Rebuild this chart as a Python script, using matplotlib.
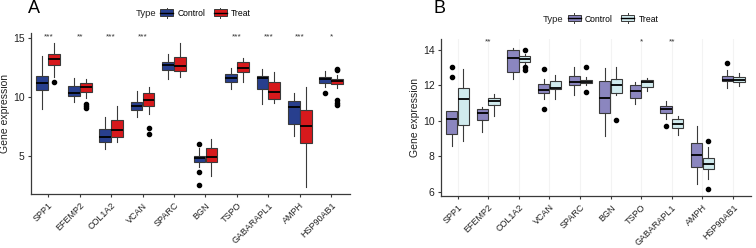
import numpy as np
import matplotlib
matplotlib.use("Agg")
import matplotlib.pyplot as plt
from matplotlib.legend_handler import HandlerBase
from matplotlib.patches import Rectangle
from matplotlib.lines import Line2D

plt.rcParams.update({
    "font.family": ["Liberation Sans", "DejaVu Sans"],
    "axes.spines.top": False,
    "axes.spines.right": False,
})

genes = ["SPP1", "EFEMP2", "COL1A2", "VCAN", "SPARC", "BGN", "TSPO",
         "GABARAPL1", "AMPH", "HSP90AB1"]

# ---- panel A: (whislo, q1, med, q3, whishi) per gene ----
a_ctrl = [(8.98, 10.57, 11.16, 11.78, 13.5), (9.6, 10.11, 10.37, 10.93, 11.58),
          (5.59, 6.16, 6.64, 7.31, 8.28), (8.28, 8.9, 9.24, 9.6, 10.5),
          (11.53, 12.26, 12.69, 12.97, 13.64), (4.1, 4.52, 4.8, 5.03, 5.65),
          (10.68, 11.3, 11.64, 11.97, 12.43), (9.41, 10.65, 11.58, 11.78, 12.37),
          (6.72, 7.74, 9.18, 9.66, 10.31), (10.85, 11.21, 11.53, 11.72, 12.18)]
a_ctrl_out = [[], [], [], [], [], [5.99, 3.67, 2.54], [], [], [], [10.31]]
a_treat = [(11.65, 12.74, 13.2, 13.64, 14.6), (9.89, 10.45, 10.88, 11.16, 11.5),
           (6.21, 6.64, 7.2, 8.05, 9.24), (8.53, 9.24, 9.75, 10.31, 10.82),
           (11.67, 12.2, 12.62, 13.36, 14.55), (3.3, 4.47, 4.89, 5.65, 6.44),
           (11.3, 12.12, 12.49, 12.97, 13.28), (9.47, 9.83, 10.42, 11.24, 12.09),
           (2.35, 6.07, 7.57, 8.87, 10.82), (10.74, 11.1, 11.36, 11.53, 11.85)]
a_treat_out = [[11.3], [9.4, 9.24, 9.04], [], [7.34, 6.84], [], [], [], [], [],
               [12.37, 12.25, 9.75, 9.52, 9.3]]
a_sig = ["***", "**", "***", "***", "", "", "***", "***", "***", "*"]

# ---- panel B ----
b_ctrl = [(8.59, 9.27, 10.13, 10.56, 10.56), (9.36, 10.06, 10.43, 10.66, 10.8),
          (12.35, 12.76, 13.55, 14.0, 14.1), (11.22, 11.56, 11.75, 12.07, 12.35),
          (11.46, 12.03, 12.21, 12.55, 13.06), (9.12, 10.47, 11.3, 12.25, 12.97),
          (10.96, 11.28, 11.71, 12.03, 12.21), (10.11, 10.43, 10.68, 10.85, 11.13),
          (6.45, 7.41, 8.08, 8.74, 9.73), (11.84, 12.25, 12.31, 12.55, 12.87)]
b_ctrl_out = [[13.04, 12.5], [], [], [12.93, 10.66], [], [], [], [9.72], [], [13.25]]
b_treat = [(8.87, 9.79, 11.22, 11.84, 12.95), (10.3, 10.88, 11.14, 11.28, 11.5),
           (13.2, 13.32, 13.51, 13.66, 13.75), (11.22, 11.79, 11.88, 12.25, 12.57),
           (12.0, 12.12, 12.21, 12.31, 12.45), (11.46, 11.56, 12.03, 12.35, 13.06),
           (11.71, 11.9, 12.18, 12.31, 12.44), (9.19, 9.59, 9.83, 10.13, 10.25),
           (6.73, 7.28, 7.58, 7.9, 8.55), (11.99, 12.18, 12.31, 12.46, 12.69)]
b_treat_out = [[], [], [14.0, 13.02, 12.87], [], [13.06, 11.65], [10.06], [], [],
               [8.87, 6.17], []]
b_sig = ["", "**", "", "", "", "", "*", "**", "", ""]

EDGE = "#3a3a3a"


def stats(rows, outs):
    return [dict(whislo=r[0], q1=r[1], med=r[2], q3=r[3], whishi=r[4], fliers=o)
            for r, o in zip(rows, outs)]


class BoxKey(HandlerBase):
    # small boxplot glyph like the ggplot legend key
    def __init__(self, color):
        super().__init__()
        self.color = color

    def create_artists(self, legend, orig, xd, yd, w, h, fs, trans):
        cx = xd + w / 2
        arts = [Line2D([cx, cx], [yd - 0.3 * h, yd + 1.3 * h], color=EDGE, lw=0.7),
                Rectangle((xd, yd), w, h, facecolor=self.color, edgecolor=EDGE, lw=0.7),
                Line2D([xd, xd + w], [yd + h / 2] * 2, color="black", lw=1.0)]
        for a in arts:
            a.set_transform(trans)
        return arts


def panel(ax, ctrl, ctrl_out, treat, treat_out, sig, c1, c2, ylim, yticks, sig_y):
    pos = np.arange(1, len(genes) + 1)
    for st, off, col in [(stats(ctrl, ctrl_out), -0.19, c1),
                         (stats(treat, treat_out), 0.19, c2)]:
        ax.bxp(st, positions=pos + off, widths=0.37, patch_artist=True,
               showcaps=False,
               boxprops=dict(facecolor=col, edgecolor=EDGE, linewidth=0.8),
               medianprops=dict(color="black", linewidth=1.3),
               whiskerprops=dict(color=EDGE, linewidth=0.8),
               flierprops=dict(marker="o", markerfacecolor="black",
                               markeredgecolor="black", markersize=3))
    for p, s in zip(pos, sig):
        if s:
            ax.text(p, sig_y, s, ha="center", va="center", fontsize=6, color="#333333")
    ax.set_xlim(0.45, 10.6)
    ax.set_ylim(*ylim)
    ax.set_yticks(yticks)
    ax.set_xticks(pos)
    ax.set_xticklabels(genes, rotation=45, ha="right", rotation_mode="anchor",
                       fontsize=6.5, color="#222222")
    ax.tick_params(axis="y", labelsize=7.5, length=2.5, color=EDGE, pad=2,
                   labelcolor="#222222")
    ax.tick_params(axis="x", length=2.5, color=EDGE, pad=2.5)
    ax.set_ylabel("Gene expression", fontsize=7.5, color="#222222")
    ax.yaxis.set_label_coords(-0.066, 0.5)
    for sp in ["left", "bottom"]:
        ax.spines[sp].set_color(EDGE)
        ax.spines[sp].set_linewidth(0.9)


fig = plt.figure(figsize=(7.56, 2.48), dpi=100)
axA = fig.add_axes([0.041, 0.218, 0.422, 0.649])
axB = fig.add_axes([0.583, 0.21, 0.411, 0.633])

colsA = ("#283F8E", "#D7191C")
colsB = ("#8B86BF", "#D1EBEE")
panel(axA, a_ctrl, a_ctrl_out, a_treat, a_treat_out, a_sig, *colsA,
      (1.78, 15.42), [5, 10, 15], 15.05)
panel(axB, b_ctrl, b_ctrl_out, b_treat, b_treat_out, b_sig, *colsB,
      (5.77, 14.62), [6, 8, 10, 12, 14], 14.45)

axB.grid(axis="x", color="#f3f3f3", linewidth=0.8)
axB.set_axisbelow(True)

# legends: title placed as separate text to sit on the left like ggplot
for cols, tx, ty, lx in [(colsA, 0.179, 0.944, 0.212), (colsB, 0.718, 0.923, 0.751)]:
    h1 = Rectangle((0, 0), 1, 1)
    h2 = Rectangle((0, 0), 1, 1)
    fig.text(tx, ty, "Type", fontsize=6.8, va="center", color="#222222")
    fig.legend(handles=[h1, h2], labels=["Control", "Treat"],
               handler_map={h1: BoxKey(cols[0]), h2: BoxKey(cols[1])},
               ncol=2, frameon=False, fontsize=6.2, handlelength=1.5,
               handleheight=0.8, columnspacing=1.0, handletextpad=0.5,
               borderpad=0, borderaxespad=0,
               loc="center left", bbox_to_anchor=(lx, ty))

fig.text(0.037, 0.965, "A", fontsize=13, va="center")
fig.text(0.574, 0.965, "B", fontsize=13, va="center")

fig.savefig("out.png", dpi=100)
